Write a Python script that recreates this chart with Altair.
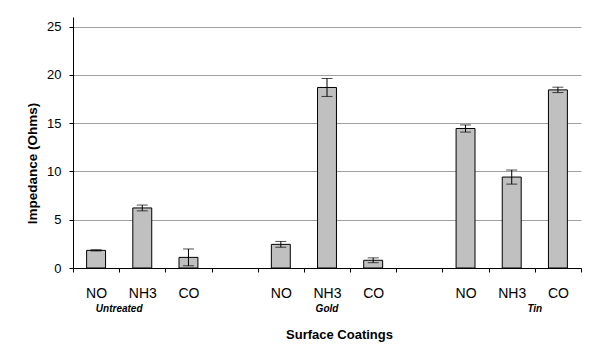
import altair as alt
import pandas as pd

slots = ["U|NO", "U|NH3", "U|CO", "gap1", "G|NO", "G|NH3", "G|CO", "gap2", "T|NO", "T|NH3", "T|CO"]
bar_slots = ["U|NO", "U|NH3", "U|CO", "G|NO", "G|NH3", "G|CO", "T|NO", "T|NH3", "T|CO"]
values = [1.83, 6.22, 1.1, 2.45, 18.7, 0.8, 14.45, 9.42, 18.45]
errors = [0.06, 0.3, 0.87, 0.3, 0.93, 0.25, 0.37, 0.73, 0.28]

group_names = ["Untreated", "Gold", "Tin"]
group_anchor = ["U|NO", "G|NH3", "T|NH3"]
group_between = [1, 0, 1]

df = pd.DataFrame({"slot": bar_slots, "value": values, "err": errors})
df["lo"] = df["value"] - df["err"]
df["hi"] = df["value"] + df["err"]
gdf = pd.DataFrame({"name": group_names, "slot": group_anchor, "between": group_between})

W, H = 508, 251
STEP = W / len(slots)
FONT = "Liberation Sans"

xscale = alt.Scale(domain=slots, paddingInner=0, paddingOuter=0)
yscale = alt.Scale(domain=[0, 25])

xaxis = alt.Axis(
    title="Surface Coatings",
    labelExpr="isString(datum.value) && indexof(datum.value, '|') >= 0 ? split(datum.value, '|')[1] : ''",
    labelAngle=0, labelFontSize=14, labelFont=FONT, labelColor="black",
    labelPadding=14, tickBand="extent", tickSize=4, tickColor="black",
    domainColor="black", grid=False, titleFont=FONT, titleFontSize=13,
    titleFontWeight="bold", titleColor="black", titlePadding=28, titleX=266,
)
yaxis = alt.Axis(
    title="Impedance (Ohms)", values=[0, 5, 10, 15, 20, 25],
    labelFontSize=13, labelFont=FONT, labelColor="black", labelPadding=8,
    tickSize=4, tickColor="black", domainColor="black",
    gridColor="#a0a0a0", gridWidth=1,
    titleFont=FONT, titleFontSize=13.5, titleFontWeight="bold", titleColor="black",
    titlePadding=7, titleY=146,
)

base = alt.Chart(df)
X = alt.X("slot:N", scale=xscale, sort=slots, axis=xaxis)
bars = base.mark_bar(color="#c0c0c0", stroke="black", strokeWidth=1,
                     width=alt.RelativeBandSize(0.41)).encode(
    x=X,
    y=alt.Y("value:Q", scale=yscale, axis=yaxis),
)
rules = base.mark_rule(color="black", strokeWidth=1).encode(
    x=X, y=alt.Y("lo:Q"), y2="hi:Q",
)
tlo = base.mark_tick(color="black", thickness=1, size=11).encode(
    x=X, y=alt.Y("lo:Q"),
)
thi = base.mark_tick(color="black", thickness=1, size=11).encode(
    x=X, y=alt.Y("hi:Q"),
)

gstyle = dict(font=FONT, fontSize=10, fontStyle="italic", fontWeight="bold",
              color="black", baseline="middle")
g_between = alt.Chart(gdf).transform_filter("datum.between == 1").mark_text(
    dx=STEP / 2, **gstyle
).encode(x=X, y=alt.value(H + 41), text="name:N")
g_center = alt.Chart(gdf).transform_filter("datum.between == 0").mark_text(
    **gstyle
).encode(x=X, y=alt.value(H + 41), text="name:N")

chart = alt.layer(bars, rules, tlo, thi, g_between, g_center).properties(
    width=W, height=H,
    autosize=alt.AutoSizeParams(type="none"),
    padding={"left": 65, "top": 9, "right": 22, "bottom": 78},
).configure_view(strokeWidth=0)

chart.save("out.html", embed_options={"renderer": "svg", "actions": False})
